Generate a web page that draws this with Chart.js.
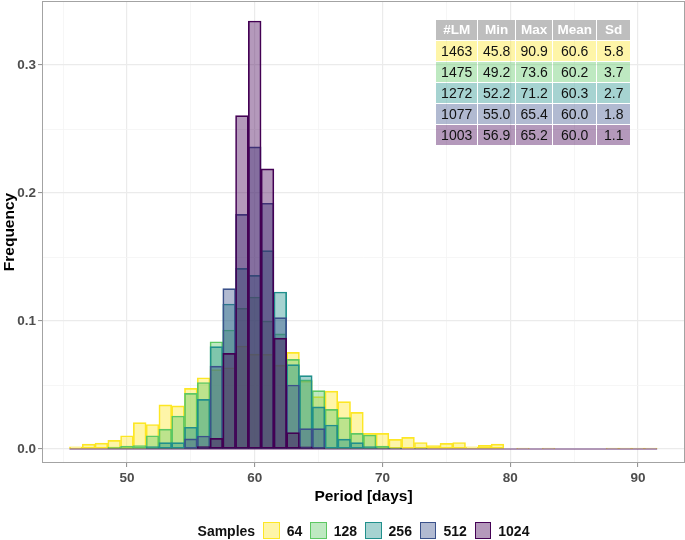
<!DOCTYPE html>
<html>
<head>
<meta charset="utf-8">
<script src="https://cdn.jsdelivr.net/npm/chart.js@4.4.1/dist/chart.umd.min.js"></script>
<style>
  html, body { margin: 0; padding: 0; background: #fff; }
  #wrap { position: relative; width: 685px; height: 540px; font-family: 'Liberation Sans', Arial, Helvetica, sans-serif; }
  canvas { position: absolute; left: 0; top: 0; }
  #stats { position: absolute; left: 435.2px; top: 18.5px; border-collapse: separate; border-spacing: 1.5px; }
  #stats td, #stats th { padding: 0; text-align: center; vertical-align: middle; height: 20px; line-height: 20px; }
  #stats th { background: #bebebe; color: #fff; font-weight: bold; font-size: 13.5px; }
  #stats td { font-size: 14px; color: #111; }
  #legend { position: absolute; left: 42px; width: 643px; top: 522px; height: 17px; display: flex; align-items: center; justify-content: center; font-weight: bold; font-size: 14px; color: #111; }
  #legend .sw { width: 16.5px; height: 16.5px; box-sizing: border-box; margin-right: 7px; }
  #legend .lab { margin-right: 8px; }
</style>
</head>
<body>
<div id="wrap">
  <canvas id="c" width="685" height="540"></canvas>
  <table id="stats"></table>
  <div id="legend"></div>
</div>
<script>
// ---- data ----
const bins = [46,47,48,49,50,51,52,53,54,55,56,57,58,59,60,61,62,63,64,65,66,67,68,69,70,71,72,73,74,75,76,77,78,79,80,81,82,83,84,85,86,87,88,89,90,91];
const samples = ['64','128','256','512','1024'];
const colors = ['#FDE725','#5DC863','#21908C','#3B528B','#440154'];

const freq64 = [0.0018,0.0038,0.0046,0.0068,0.0104,0.0207,0.0192,0.0345,0.0337,0.0474,
                0.0557,0.062,0.0635,0.0805,0.0742,0.074,0.0656,0.0755,0.053,0.041,
                0.0453,0.037,0.0287,0.0122,0.0122,0.0076,0.0091,0.0051,0.0028,0.0044,
                0.0051,0.0018,0.0029,0.0038,0,0.0007,0,0.0007,0,0,
                0,0,0.0007,0.0007,0.0007,0.0007];
const freq128 = [0,0,0,0.0015,0.0023,0.0028,0.0104,0.0156,0.0258,0.0435,
                 0.052,0.0838,0.093,0.110,0.1188,0.100,0.09,0.070,0.054,0.0456,
                 0.031,0.0245,0.0122,0.011,0.0023,0.001,0,0.0007,0,0,
                 0,0,0,0,0,0,0,0,0,0,
                 0,0,0,0,0,0];
const freq256 = [0,0,0,0,0,0,0.002,0.005,0.005,0.017,
                 0.0388,0.080,0.1133,0.1411,0.1357,0.155,0.1227,0.066,0.0573,0.033,
                 0.0188,0.0078,0.005,0.002,0.001,0.0007,0,0,0,0,
                 0,0,0,0,0,0,0,0,0,0,
                 0,0,0,0,0,0];
const freq512 = [0,0,0,0,0,0,0,0,0,0.008,
                 0.0102,0.0648,0.1253,0.1833,0.236,0.192,0.1026,0.050,0.016,0.016,
                 0,0,0,0,0,0,0,0,0,0,
                 0,0,0,0,0,0,0,0,0,0,
                 0,0,0,0,0,0];
const freq1024 = [0,0,0,0,0,0,0,0,0,0,
                  0.002,0.0083,0.0747,0.2604,0.3344,0.2188,0.0867,0.0128,0.0018,0.001,
                  0,0,0,0,0,0,0,0,0,0,
                  0,0,0,0,0,0,0,0,0,0,
                  0,0,0,0,0,0];
const allFreqs = [freq64, freq128, freq256, freq512, freq1024];

const xTicks = [45,50,55,60,65,70,75,80,85,90];
const yTicks = [0,0.05,0.1,0.15,0.2,0.25,0.3];

const statHeader = ['#LM','Min','Max','Mean','Sd'];
const statLM   = ['1463','1475','1272','1077','1003'];
const statMin  = ['45.8','49.2','52.2','55.0','56.9'];
const statMax  = ['90.9','73.6','71.2','65.4','65.2'];
const statMean = ['60.6','60.2','60.3','60.0','60.0'];
const statSd   = ['5.8','3.7','2.7','1.8','1.1'];

// ---- helpers ----
function rgba(hex, a) {
  const n = parseInt(hex.slice(1), 16);
  return `rgba(${(n >> 16) & 255},${(n >> 8) & 255},${n & 255},${a})`;
}
function isMajor(v, step) { return Math.abs(v / step - Math.round(v / step)) < 1e-6; }
function tickMajor(c, step) { return !!(c && c.tick && isMajor(c.tick.value, step)); }

Chart.defaults.font.family = "'Liberation Sans', Arial, Helvetica, sans-serif";

const datasets = allFreqs.map((arr, i) => ({
  type: 'bar',
  label: samples[i],
  data: bins.map((b, j) => ({ x: b, y: arr[j] })),
  backgroundColor: rgba(colors[i], 0.4),
  borderColor: colors[i],
  borderWidth: 1,
  borderSkipped: false,
  grouped: false,
  barPercentage: 1,
  categoryPercentage: 1,
  order: 10 - i
}));
datasets.push({
  type: 'line',
  label: 'base',
  data: [{ x: bins[0] - 0.5, y: 0 }, { x: bins[bins.length - 1] + 0.5, y: 0 }],
  borderColor: rgba(colors[4], 0.75),
  borderWidth: 1,
  pointRadius: 0,
  order: 0
});

const borderPlugin = {
  id: 'panelBorder',
  afterDraw(chart) {
    const { ctx, chartArea: a } = chart;
    ctx.save();
    ctx.strokeStyle = '#a3a3a3';
    ctx.lineWidth = 1;
    ctx.strokeRect(a.left + 0.5, a.top + 0.5, a.right - a.left - 1, a.bottom - a.top - 1);
    ctx.restore();
  }
};

// ---- stats table ----
const tbl = document.getElementById('stats');
const widths = [41, 37, 36, 43, 33];
let html = '<tr>' + statHeader.map((h, k) => `<th style="width:${widths[k]}px">${h}</th>`).join('') + '</tr>';
for (let i = 0; i < samples.length; i++) {
  const bg = rgba(colors[i], 0.4);
  const cells = [statLM[i], statMin[i], statMax[i], statMean[i], statSd[i]];
  html += '<tr>' + cells.map((v, k) => `<td style="width:${widths[k]}px;background:${bg}">${v}</td>`).join('') + '</tr>';
}
tbl.innerHTML = html;

// ---- legend ----
const lg = document.getElementById('legend');
let lh = '<span class="lab">Samples</span>';
samples.forEach((s, i) => {
  const last = i === samples.length - 1;
  lh += `<div class="sw" style="background:${rgba(colors[i], 0.4)};border:1px solid ${colors[i]}"></div>` +
        `<span class="lab" style="${last ? 'margin-right:0' : ''}">${s}</span>`;
});
lg.innerHTML = lh;

new Chart(document.getElementById('c'), {
  type: 'bar',
  data: { datasets },
  plugins: [borderPlugin],
  options: {
    responsive: false,
    animation: false,
    devicePixelRatio: 1,
    layout: { padding: { left: 0, right: 0, top: 1, bottom: 34 } },
    plugins: { legend: { display: false }, tooltip: { enabled: false } },
    scales: {
      x: {
        type: 'linear',
        offset: false,
        min: 43.35,
        max: 93.68,
        afterBuildTicks: s => { s.ticks = xTicks.map(v => ({ value: v })); },
        afterFit: s => { s.height = 43; s.paddingLeft = 0; s.paddingRight = 0; },
        border: { display: false },
        grid: {
          offset: false,
          color: c => tickMajor(c, 10) ? '#ebebeb' : '#f4f4f4',
          lineWidth: c => tickMajor(c, 10) ? 1.2 : 0.8,
          tickColor: c => tickMajor(c, 10) ? '#8c8c8c' : 'rgba(0,0,0,0)',
          tickLength: 4,
          tickWidth: 1
        },
        ticks: {
          autoSkip: false, maxRotation: 0, padding: 3,
          color: '#4d4d4d', font: { size: 13.5, weight: 'bold' },
          callback: v => isMajor(v, 10) ? String(v) : ''
        },
        title: { display: true, text: 'Period [days]', color: '#000', font: { size: 15.5, weight: 'bold' }, padding: 0 }
      },
      y: {
        type: 'linear',
        min: -0.0109,
        max: 0.35,
        afterBuildTicks: s => { s.ticks = yTicks.map(v => ({ value: v })); },
        afterFit: s => { s.width = 42; s.paddingTop = 0; s.paddingBottom = 0; },
        border: { display: false },
        grid: {
          color: c => tickMajor(c, 0.1) ? '#ebebeb' : '#f4f4f4',
          lineWidth: c => tickMajor(c, 0.1) ? 1.2 : 0.8,
          tickColor: c => tickMajor(c, 0.1) ? '#8c8c8c' : 'rgba(0,0,0,0)',
          tickLength: 4,
          tickWidth: 1
        },
        ticks: {
          autoSkip: false, padding: 2,
          color: '#4d4d4d', font: { size: 13.5, weight: 'bold' },
          callback: v => isMajor(v, 0.1) ? v.toFixed(1) : ''
        },
        title: { display: true, text: 'Frequency', color: '#000', font: { size: 15.5, weight: 'bold' }, padding: 0 }
      }
    }
  }
});
</script>
</body>
</html>
